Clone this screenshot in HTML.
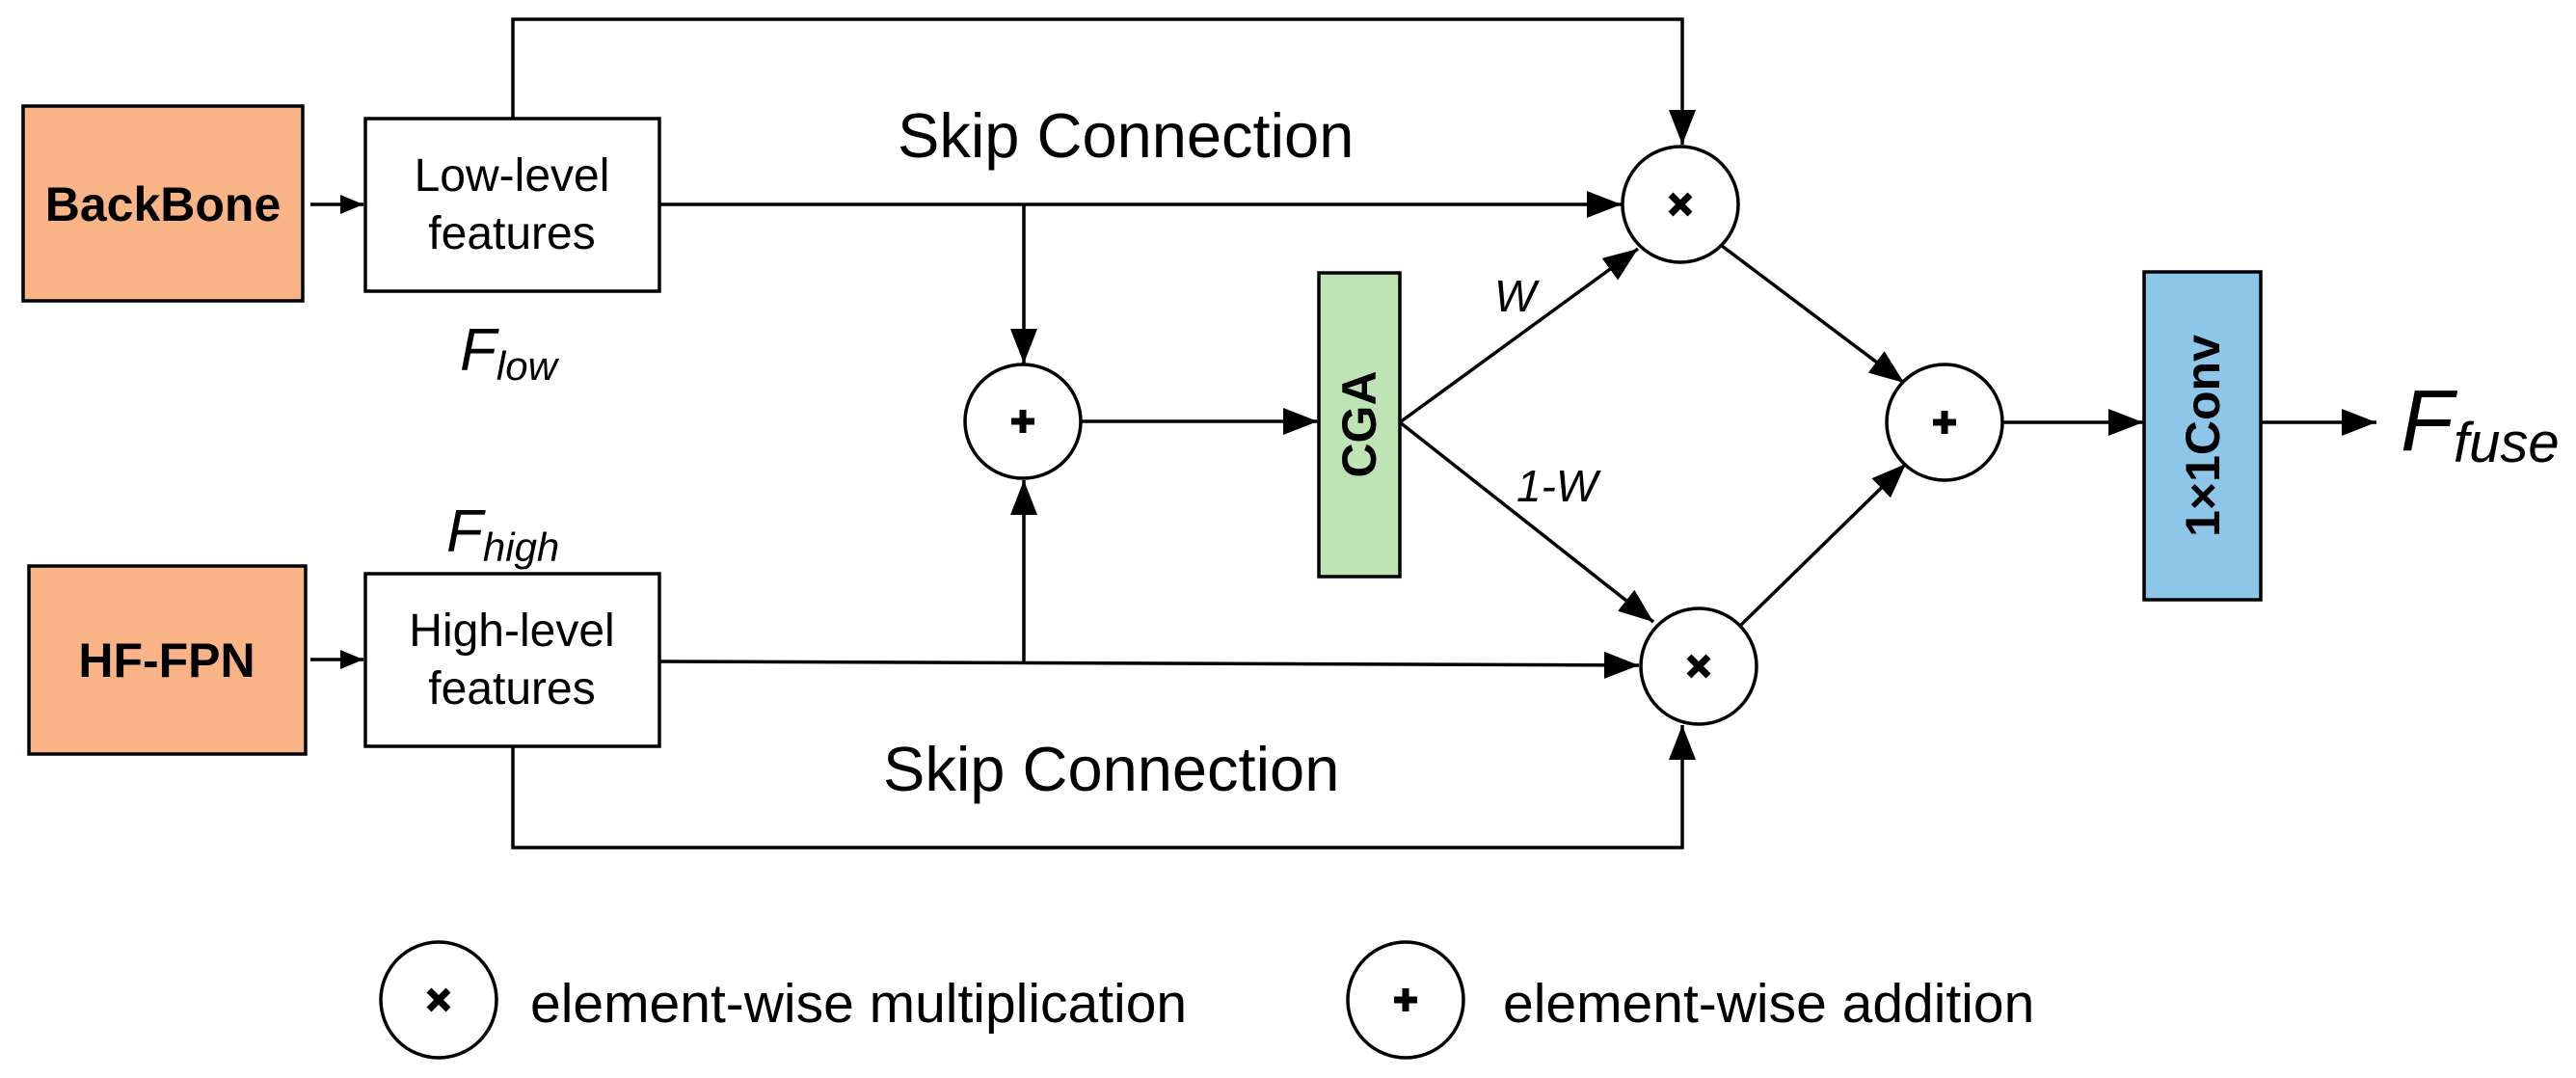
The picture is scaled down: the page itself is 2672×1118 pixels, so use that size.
<!DOCTYPE html>
<html><head><meta charset="utf-8"><style>
html,body{margin:0;padding:0;background:#fff;}
svg{display:block;}
text{font-family:"Liberation Sans",Arial,sans-serif;fill:#000;}
</style></head><body>
<svg width="2672" height="1118" viewBox="0 0 2672 1118" xmlns="http://www.w3.org/2000/svg">
<defs>
<marker id="a" viewBox="0 0 36 28" refX="36" refY="14" markerWidth="36" markerHeight="28" markerUnits="userSpaceOnUse" orient="auto">
<path d="M0,0 L36,14 L0,28 Z" fill="#000"/>
</marker>
<marker id="s" viewBox="0 0 24 20" refX="24" refY="10" markerWidth="24" markerHeight="20" markerUnits="userSpaceOnUse" orient="auto">
<path d="M0,0 L24,10 L0,20 Z" fill="#000"/>
</marker>
</defs>
<g stroke="#000" stroke-width="3.5" fill="none">
<rect x="24" y="110" width="290" height="202" fill="#F8B386"/>
<rect x="30" y="587" width="287" height="195" fill="#F8B386"/>
<rect x="379" y="123" width="305" height="179" fill="#fff"/>
<rect x="379" y="595" width="305" height="179" fill="#fff"/>
<rect x="1368" y="283" width="84" height="315" fill="#BEE3B5"/>
<rect x="2224" y="282" width="121" height="340" fill="#8EC6EA"/>
<ellipse cx="1061" cy="437" rx="60" ry="59" fill="#fff"/>
<ellipse cx="1743" cy="212" rx="60" ry="60" fill="#fff"/>
<ellipse cx="1762" cy="691" rx="60" ry="60" fill="#fff"/>
<ellipse cx="2017" cy="438" rx="60" ry="60" fill="#fff"/>
<ellipse cx="455" cy="1037" rx="60" ry="60" fill="#fff"/>
<ellipse cx="1458" cy="1037" rx="60" ry="60" fill="#fff"/>
<line x1="322" y1="212" x2="377" y2="212" marker-end="url(#s)"/>
<line x1="322" y1="684" x2="377" y2="684" marker-end="url(#s)"/>
<polyline points="532,123 532,20 1745,20 1745,150" marker-end="url(#a)"/>
<line x1="684" y1="212" x2="1682" y2="212" marker-end="url(#a)"/>
<line x1="1062" y1="212" x2="1062" y2="377" marker-end="url(#a)"/>
<line x1="684" y1="686" x2="1700" y2="690" marker-end="url(#a)"/>
<line x1="1062" y1="688" x2="1062" y2="498" marker-end="url(#a)"/>
<polyline points="532,774 532,879 1745,879 1745,752" marker-end="url(#a)"/>
<line x1="1121" y1="437" x2="1367" y2="437" marker-end="url(#a)"/>
<line x1="1452" y1="438" x2="1699" y2="258" marker-end="url(#a)"/>
<line x1="1452" y1="438" x2="1715" y2="645" marker-end="url(#a)"/>
<line x1="1786" y1="255" x2="1975" y2="397" marker-end="url(#a)"/>
<line x1="1806" y1="648" x2="1977" y2="481" marker-end="url(#a)"/>
<line x1="2077" y1="438" x2="2223" y2="438" marker-end="url(#a)"/>
<line x1="2345" y1="438" x2="2465" y2="438" marker-end="url(#a)"/>
</g>
<g stroke="#000" stroke-width="7" fill="none">
<path d="M1733,202 L1753,222 M1753,202 L1733,222"/>
<path d="M1752,681 L1772,701 M1772,681 L1752,701"/>
<path d="M445,1027 L465,1047 M465,1027 L445,1047"/>
<path d="M1061,425 V449 M1049,437 H1073"/>
<path d="M2017,426 V450 M2005,438 H2029"/>
<path d="M1458,1025 V1049 M1446,1037 H1470"/>
</g>
<text x="169" y="229" font-size="50" font-weight="bold" text-anchor="middle">BackBone</text>
<text x="173" y="702" font-size="50" font-weight="bold" text-anchor="middle">HF-FPN</text>
<text x="531" y="198" font-size="48" text-anchor="middle">Low-level</text>
<text x="531" y="258" font-size="48" text-anchor="middle">features</text>
<text x="531" y="670" font-size="48" text-anchor="middle">High-level</text>
<text x="531" y="730" font-size="48" text-anchor="middle">features</text>
<text x="931" y="163" font-size="65">Skip Connection</text>
<text x="916" y="820" font-size="65">Skip Connection</text>
<text x="477" y="384" font-size="62" font-style="italic">F<tspan font-size="42" dy="10">low</tspan></text>
<text x="463" y="572" font-size="62" font-style="italic">F<tspan font-size="42" dy="10">high</tspan></text>
<text x="1550" y="323" font-size="46" font-style="italic">W</text>
<text x="1573" y="520" font-size="46" font-style="italic">1-W</text>
<text x="2490" y="467" font-size="90" font-style="italic">F<tspan font-size="58" dy="12">fuse</tspan></text>
<text transform="translate(1427,440) rotate(-90)" font-size="50" font-weight="bold" text-anchor="middle">CGA</text>
<text transform="translate(2302,452) rotate(-90)" font-size="50" font-weight="bold" text-anchor="middle">1×1Conv</text>
<text x="550" y="1060" font-size="57">element-wise multiplication</text>
<text x="1559" y="1060" font-size="57">element-wise addition</text>
</svg>
</body></html>
